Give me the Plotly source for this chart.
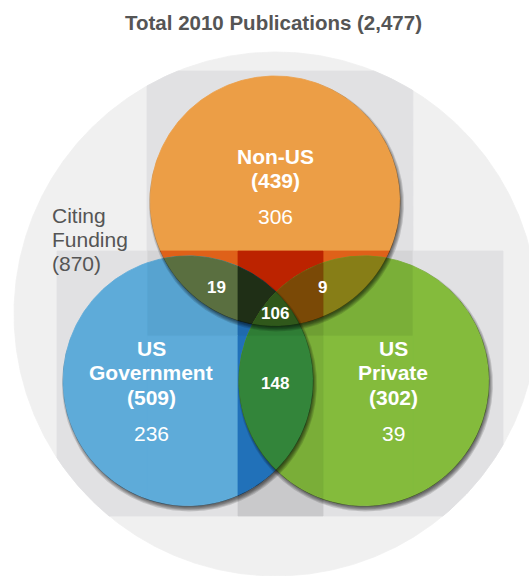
import numpy as np
import plotly.graph_objects as go

# ---------------- data ----------------
set_names = ["Non-US", "US Government", "US Private"]
set_totals = [439, 509, 302]
exclusive_counts = [306, 236, 39]
pair_members = [(0, 1), (0, 2), (1, 2)]
pair_counts = [19, 9, 148]
all_three_count = 106
total_publications = 2477
citing_funding_total = 870

# ---------------- geometry (pixel space, y grows downward) ----------------
W, H = 529, 576
outer_center, outer_r = (276, 314), 262
centers = [(275, 201), (188, 381), (364, 381)]
R = 125

# background panels: (zone, x0, y0, x1, y1)
zone_rects = [
    ("A", 147, 71, 413, 251),
    ("B", 147, 251, 238, 336), ("B", 323, 251, 413, 336),
    ("C", 238, 251, 323, 336),
    ("D", 57, 251, 147, 516), ("D", 413, 251, 503, 516),
    ("D", 147, 336, 238, 516), ("D", 323, 336, 413, 516),
    ("E", 238, 336, 323, 516),
]
zone_fill = {"A": "#e1e1e3", "B": "#d4d4d6", "C": "#bdbdc0", "D": "#e1e1e3", "E": "#c9c9cb"}

# fill of each Venn region over each background zone
region_fill = {
    (0,): {"A": "#ec9e46", "B": "#df6119", "C": "#bc2300"},
    (1,): {"B": "#57a3d0", "C": "#1f6aae", "D": "#5eabd9", "E": "#2171b9"},
    (2,): {"B": "#7aaf38", "C": "#6f9f33", "D": "#84bb3c", "E": "#7aae38"},
    (0, 1): {"B": "#5a6f40", "C": "#1f2f16"},
    (0, 2): {"B": "#877e17", "C": "#7a4906"},
    (1, 2): {"C": "#2f7d35", "E": "#33853a"},
    (0, 1, 2): {"C": "#30581b"},
}


def circle_poly(c, r, n=360):
    t = np.linspace(0, 2 * np.pi, n, endpoint=False)
    return [(c[0] + r * np.cos(a), c[1] + r * np.sin(a)) for a in t]


def rect_poly(x0, y0, x1, y1):
    return [(x0, y0), (x1, y0), (x1, y1), (x0, y1)]


def _cut(s, e, ss, es):
    t = ss / (ss - es)
    return (s[0] + t * (e[0] - s[0]), s[1] + t * (e[1] - s[1]))


def clip(subject, clipper):
    """Sutherland-Hodgman clip of a polygon by a convex polygon."""
    out = list(subject)
    n = len(clipper)
    for i in range(n):
        if not out:
            break
        ax, ay = clipper[i]
        bx, by = clipper[(i + 1) % n]

        def side(p):
            return (bx - ax) * (p[1] - ay) - (by - ay) * (p[0] - ax)

        inp, out = out, []
        s = inp[-1]
        ss = side(s)
        for e in inp:
            es = side(e)
            if es >= 0:
                if ss < 0:
                    out.append(_cut(s, e, ss, es))
                out.append(e)
            elif ss >= 0:
                out.append(_cut(s, e, ss, es))
            s, ss = e, es
    return out


def crescent(c, r, o, k, n=1440):
    """Part of the disc (c + o, r + k) lying outside the disc (c, r)."""
    ocx, ocy = c[0] + o[0], c[1] + o[1]
    rr = r + k
    t = np.arctan2(o[1], o[0]) + np.linspace(-np.pi, np.pi, n)
    ox, oy = ocx + rr * np.cos(t), ocy + rr * np.sin(t)
    keep_o = (ox - c[0]) ** 2 + (oy - c[1]) ** 2 > r ** 2
    ix, iy = c[0] + r * np.cos(t), c[1] + r * np.sin(t)
    keep_i = (ix - ocx) ** 2 + (iy - ocy) ** 2 < rr ** 2
    xs = np.concatenate([ox[keep_o], ix[keep_i][::-1]])
    ys = np.concatenate([oy[keep_o], iy[keep_i][::-1]])
    return xs, ys


fig = go.Figure()


def add_poly(pts, color, line_w=0.8):
    if len(pts) < 3:
        return
    xs = [p[0] for p in pts] + [pts[0][0]]
    ys = [p[1] for p in pts] + [pts[0][1]]
    fig.add_trace(go.Scatter(
        x=xs, y=ys, mode="lines", fill="toself", fillcolor=color,
        line=dict(width=line_w, color=color), hoverinfo="skip", showlegend=False,
    ))


# outer disc and the grey panels inside it
outer = circle_poly(outer_center, outer_r, 720)
add_poly(outer, "#f0f0f0")
for zone, x0, y0, x1, y1 in zone_rects:
    add_poly(clip(rect_poly(x0, y0, x1, y1), outer), zone_fill[zone])

# Venn regions, painted from single sets up to the triple overlap
circles = [circle_poly(c, R) for c in centers]
for members in [(0,), (1,), (2,), (0, 1), (0, 2), (1, 2), (0, 1, 2)]:
    shape = circles[members[0]]
    for m in members[1:]:
        shape = clip(shape, circles[m])
    for zone, x0, y0, x1, y1 in zone_rects:
        col = region_fill[members].get(zone)
        if col is None:
            continue
        add_poly(clip(shape, rect_poly(x0, y0, x1, y1)), col)

# soft drop shadows falling below/right of each circle
shadow_offset = (1.5, 3.0)
for c in centers:
    for k in [-1.5, -0.5, 0.5, 1.5, 2.5]:
        xs, ys = crescent(c, R, shadow_offset, k)
        if len(xs) < 3:
            continue
        fig.add_trace(go.Scatter(
            x=np.append(xs, xs[0]), y=np.append(ys, ys[0]),
            mode="lines", fill="toself", fillcolor="rgba(0,0,0,0.14)",
            line=dict(width=0), hoverinfo="skip", showlegend=False,
        ))

# ---------------- text ----------------
FONT = "Liberation Sans, Arial, Helvetica, sans-serif"
annotations = []


def label(x, y, text, size, color="#ffffff", bold=True, xanchor="center"):
    annotations.append(dict(
        x=x, y=y, xref="x", yref="y", text=f"<b>{text}</b>" if bold else text,
        showarrow=False, xanchor=xanchor, yanchor="middle",
        font=dict(family=FONT, size=size, color=color),
    ))


label(273, 22, f"Total 2010 Publications ({total_publications:,})", 20.5, color="#555555")

# set name / total / exclusive count for each circle
name_pos = [(275, 156), (151, 348), (393, 348)]
for i, name in enumerate(set_names):
    x, y = name_pos[i]
    words = name.split(" ")
    if len(words) == 1:
        lines = [name]
    else:
        lines = [words[0], " ".join(words[1:])]
    for j, ln in enumerate(lines):
        label(x, y + 24.5 * j, ln, 21)
    yy = y + 24.5 * len(lines)
    label(x, yy, f"({set_totals[i]})", 21)
    label(x, yy + 36, str(exclusive_counts[i]), 21, bold=False)

# overlap counts
pair_pos = [(216, 287), (322, 287), (275, 383)]
for (x, y), v in zip(pair_pos, pair_counts):
    label(x, y, str(v), 17)
label(275, 313, str(all_three_count), 17)

# funding side note
for j, ln in enumerate(["Citing", "Funding", f"({citing_funding_total})"]):
    label(50, 215 + 24 * j, ln, 21, color="#555555", bold=False, xanchor="left")

fig.update_layout(
    width=W, height=H, autosize=False,
    margin=dict(l=0, r=0, t=0, b=0),
    paper_bgcolor="#ffffff", plot_bgcolor="#ffffff",
    xaxis=dict(range=[0, W], visible=False, fixedrange=True),
    yaxis=dict(range=[H, 0], visible=False, fixedrange=True),
    annotations=annotations,
    showlegend=False,
)

fig.write_html("out.html", config={"displayModeBar": False})
